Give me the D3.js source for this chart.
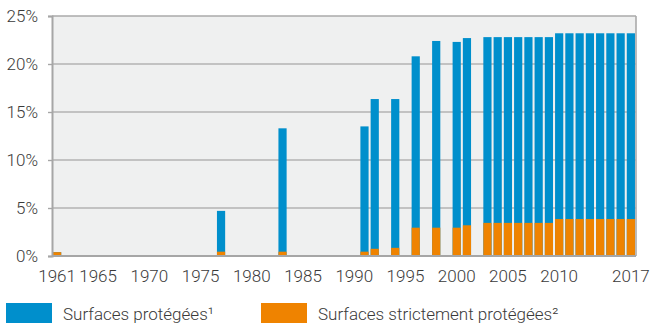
<!DOCTYPE html>
<html>
<head>
<meta charset="utf-8">
<script src="https://cdn.jsdelivr.net/npm/d3@7"></script>
<style>
  html, body { margin: 0; padding: 0; background: #fff; }
  svg { display: block; font-family: Roboto, "Noto Sans", sans-serif; font-weight: 300; }
</style>
</head>
<body>
<svg id="chart" width="650" height="323"></svg>
<script>
// Years shown on the x axis (1961–2017)
const years = d3.range(1961, 2018);
// Years with a published value
const dataYears = [1961, 1977, 1983, 1991, 1992, 1994, 1996, 1998, 2000, 2001,
  2003, 2004, 2005, 2006, 2007, 2008, 2009,
  2010, 2011, 2012, 2013, 2014, 2015, 2016, 2017];
// Protected areas, % of territory
const protectedShare = [0.4, 4.7, 13.3, 13.5, 16.35, 16.35, 20.8, 22.4, 22.3, 22.7,
  22.8, 22.8, 22.8, 22.8, 22.8, 22.8, 22.8,
  23.2, 23.2, 23.2, 23.2, 23.2, 23.2, 23.2, 23.2];
// Strictly protected areas, % of territory
const strictShare = [0.4, 0.45, 0.45, 0.45, 0.75, 0.85, 2.95, 2.95, 2.95, 3.2,
  3.45, 3.45, 3.45, 3.45, 3.45, 3.45, 3.45,
  3.85, 3.85, 3.85, 3.85, 3.85, 3.85, 3.85, 3.85];
const tickYears = [1961, 1965, 1970, 1975, 1980, 1985, 1990, 1995, 2000, 2005, 2010, 2017];
const yTicks = [0, 5, 10, 15, 20, 25];
const seriesNames = ["Surfaces protégées¹", "Surfaces strictement protégées²"];
const seriesColors = ["#008fcc", "#ef8300"];

const rows = dataYears.map((y, i) => ({ year: y, total: protectedShare[i], strict: strictShare[i] }));

const svg = d3.select("#chart");
const m = { left: 52, right: 14, top: 16, bottom: 67 };
const W = 650, H = 323;
const FONT = "17px";

const x = d3.scaleBand().domain(years).range([m.left, W - m.right])
  .paddingInner(0.2).paddingOuter(0.1);
const y = d3.scaleLinear().domain([0, 25]).range([H - m.bottom, m.top]);

// plot background
svg.append("rect")
  .attr("x", m.left).attr("y", m.top)
  .attr("width", W - m.right - m.left).attr("height", H - m.bottom - m.top)
  .attr("fill", "#eff0f0");

// horizontal grid lines
svg.append("g").selectAll("line").data(yTicks.filter(t => t > 0 && t < 25)).join("line")
  .attr("x1", m.left).attr("x2", W - m.right)
  .attr("y1", d => y(d)).attr("y2", d => y(d))
  .attr("stroke", "#b3b3b3").attr("stroke-width", 1.4);

// frame: top and right edges
svg.append("line").attr("x1", m.left).attr("x2", W - m.right)
  .attr("y1", y(25)).attr("y2", y(25)).attr("stroke", "#aaa").attr("stroke-width", 1.6);
svg.append("line").attr("x1", W - m.right).attr("x2", W - m.right)
  .attr("y1", y(25)).attr("y2", y(0)).attr("stroke", "#aaa").attr("stroke-width", 1.6);

// bars: total protected, with strictly protected share from the base
const bars = svg.append("g");
bars.selectAll("rect.total").data(rows).join("rect").attr("class", "total")
  .attr("x", d => x(d.year)).attr("width", x.bandwidth())
  .attr("y", d => y(d.total)).attr("height", d => y(0) - y(d.total))
  .attr("fill", seriesColors[0]);
bars.selectAll("rect.strict").data(rows).join("rect").attr("class", "strict")
  .attr("x", d => x(d.year)).attr("width", x.bandwidth())
  .attr("y", d => y(d.strict)).attr("height", d => y(0) - y(d.strict))
  .attr("fill", seriesColors[1]);

// y axis
const yAxis = svg.append("g").attr("transform", `translate(${m.left},0)`)
  .call(d3.axisLeft(y).tickValues(yTicks).tickFormat(d => d + "%").tickSize(4).tickPadding(10));
yAxis.select(".domain").attr("stroke", "#a6a6a6").attr("stroke-width", 2);
yAxis.selectAll(".tick line").attr("stroke", "#a6a6a6").attr("stroke-width", 1.4);
yAxis.selectAll("text").attr("fill", "#3a3a3a").style("font-size", FONT)
  .style("font-family", "Roboto, sans-serif").style("font-weight", 300);

// x axis
const xAxis = svg.append("g").attr("transform", `translate(0,${y(0)})`)
  .call(d3.axisBottom(x).tickValues(tickYears).tickSize(0).tickPadding(14));
xAxis.select(".domain").attr("d", `M${m.left},0H${W - m.right}`)
  .attr("stroke", "#a6a6a6").attr("stroke-width", 2);
xAxis.selectAll("text").attr("fill", "#3a3a3a").style("font-size", FONT)
  .style("font-family", "Roboto, sans-serif").style("font-weight", 300);

// legend
const legend = svg.append("g");
const legendX = [6, 261];
seriesNames.forEach((name, i) => {
  legend.append("rect").attr("x", legendX[i]).attr("y", 303)
    .attr("width", 46).attr("height", 22).attr("fill", seriesColors[i]);
  legend.append("text").attr("x", legendX[i] + 57).attr("y", 320)
    .attr("fill", "#3a3a3a").style("font-size", FONT).style("font-weight", 300)
    .text(name);
});
</script>
</body>
</html>
